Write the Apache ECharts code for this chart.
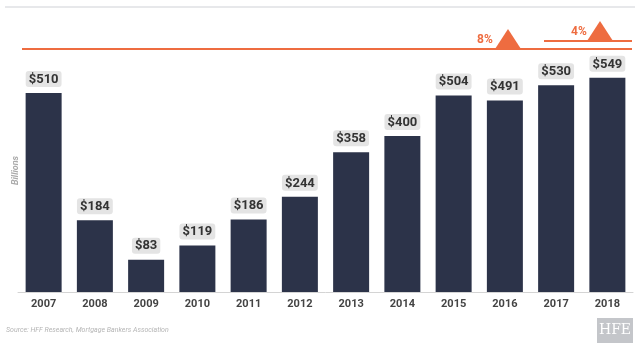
<!DOCTYPE html>
<html>
<head>
<meta charset="utf-8">
<script src="https://cdn.jsdelivr.net/npm/echarts@6/dist/echarts.min.js"></script>
<style>
  html, body { margin: 0; padding: 0; background: #fff; }
  #chart { width: 640px; height: 352px; }
</style>
</head>
<body>
<div id="chart"></div>
<script>
const years = ['2007', '2008', '2009', '2010', '2011', '2012', '2013', '2014', '2015', '2016', '2017', '2018']
const volume = [510, 184, 83, 119, 186, 244, 358, 400, 504, 491, 530, 549]
const growthLabels = ['8%', '4%']

const chart = echarts.init(document.getElementById('chart'))
const orange = '#ee6c40'

const option = {
  animation: false,
  grid: { left: 18, right: 7, top: 49, bottom: 60 },
  xAxis: {
    type: 'category',
    data: years,
    axisTick: { show: false },
    axisLine: { lineStyle: { color: '#d4d4d4', width: 1 } },
    axisLabel: {
      color: '#444', fontWeight: 'bold', fontSize: 11,
      fontFamily: 'Roboto', margin: 7
    }
  },
  yAxis: {
    type: 'value',
    min: 0,
    max: 623,
    splitLine: { show: false },
    axisLine: { show: false },
    axisTick: { show: false },
    axisLabel: { show: false },
    name: 'Billions',
    nameLocation: 'middle',
    nameGap: -2,
    nameTextStyle: { color: '#aaa', fontSize: 9, fontStyle: 'italic', fontWeight: 'bold', fontFamily: 'Roboto' }
  },
  series: [{
    type: 'bar',
    data: volume,
    barWidth: 36,
    itemStyle: { color: '#2c3349' },
    label: {
      show: true,
      position: 'top',
      distance: 6,
      formatter: p => '$' + p.value,
      color: '#333',
      fontWeight: 'bold',
      fontSize: 13,
      fontFamily: 'Roboto',
      backgroundColor: '#e4e4e4',
      borderRadius: 3,
      padding: [2, 3, 1, 3]
    }
  }],
  graphic: [
    { type: 'line', shape: { x1: 5, y1: 7, x2: 635, y2: 7 }, style: { stroke: '#cfd1d6', lineWidth: 1 } },
    { type: 'line', shape: { x1: 22, y1: 49, x2: 632, y2: 49 }, style: { stroke: orange, lineWidth: 2 } },
    { type: 'polygon', shape: { points: [[495, 49], [508, 29], [521, 49]] }, style: { fill: orange } },
    { type: 'text', x: 477, y: 34, style: { text: growthLabels[0], fill: orange, font: 'bold 12px Roboto' } },
    { type: 'line', shape: { x1: 544, y1: 41, x2: 632, y2: 41 }, style: { stroke: orange, lineWidth: 2 } },
    { type: 'polygon', shape: { points: [[587, 41], [600, 21], [613, 41]] }, style: { fill: orange } },
    { type: 'text', x: 571, y: 26, style: { text: growthLabels[1], fill: orange, font: 'bold 12px Roboto' } },
    { type: 'text', x: 6, y: 327, style: { text: 'Source: HFF Research, Mortgage Bankers Association', fill: '#b5b5b5', font: 'italic 7px Roboto' } },
    { type: 'rect', shape: { x: 597, y: 318, width: 36, height: 25 }, style: { fill: '#c4c6ca' } },
    { type: 'text', x: 615, y: 330, style: { text: 'HFE', fill: '#fff', font: '14px "DejaVu Serif"', align: 'center', verticalAlign: 'middle' } }
  ]
}

chart.setOption(option)
</script>
</body>
</html>
